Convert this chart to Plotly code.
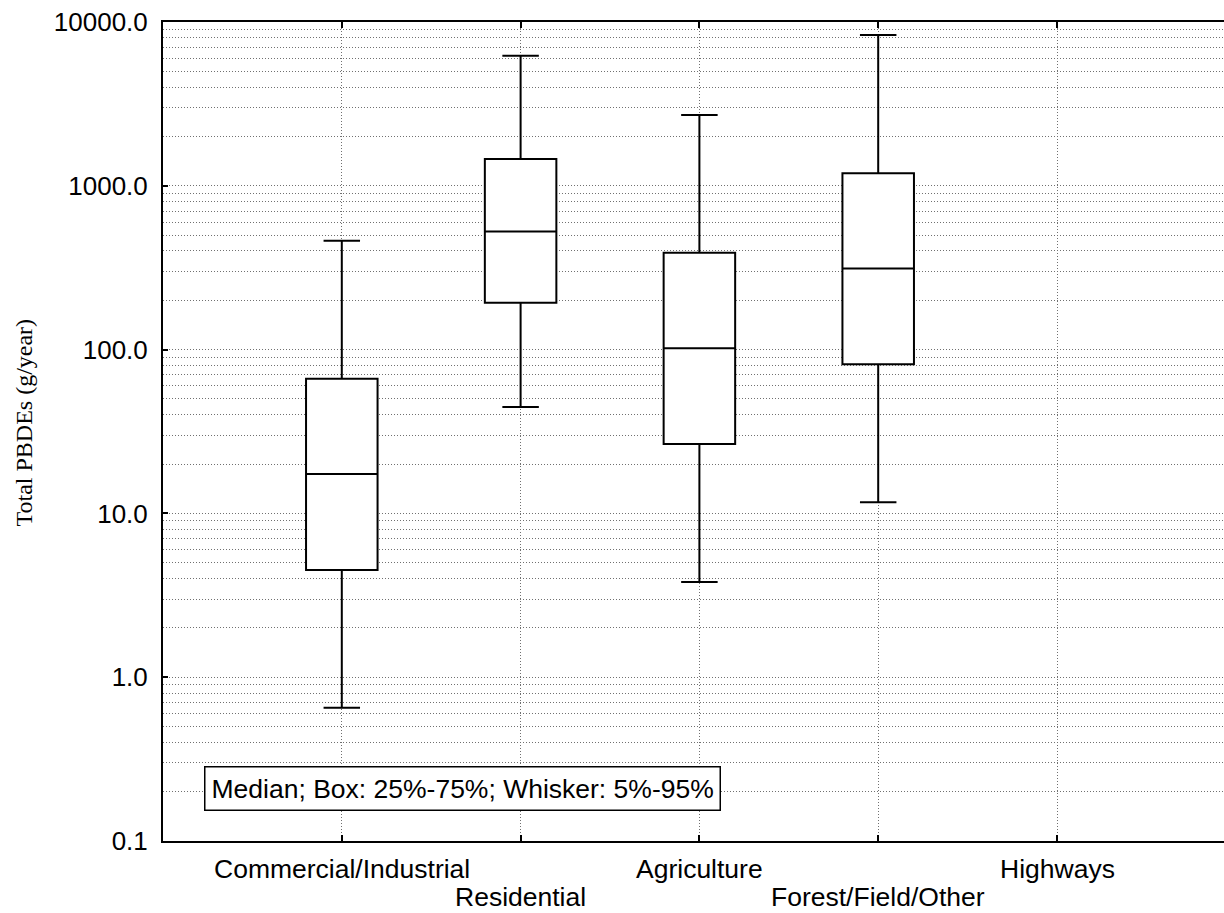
import math
import plotly.graph_objects as go

# ---- data ----
categories = ["Commercial/Industrial", "Residential", "Agriculture", "Forest/Field/Other", "Highways"]
box_categories = ["Commercial/Industrial", "Residential", "Agriculture", "Forest/Field/Other"]
p5 = [0.65, 44.7, 3.81, 11.7]
q25 = [4.51, 193.0, 26.5, 81.4]
median = [17.4, 526.0, 102.0, 313.0]
q75 = [66.3, 1455.0, 390.0, 1195.0]
p95 = [462.0, 6230.0, 2710.0, 8330.0]

ytick_vals = [0.1, 1, 10, 100, 1000, 10000]
ytick_text = ["0.1", "1.0", "10.0", "100.0", "1000.0", "10000.0"]

legend_text = "Median; Box: 25%-75%; Whisker: 5%-95%"
y_title = "Total PBDEs (g/year)"

SANS = "Liberation Sans, Arial, sans-serif"
SERIF = "Liberation Serif, Times New Roman, serif"
GRID = "#707070"
GRIDDASH = "1px,2px"

fig = go.Figure()
fig.add_trace(go.Box(
    x=box_categories,
    q1=q25, median=median, q3=q75,
    lowerfence=p5, upperfence=p95,
    width=0.4, whiskerwidth=0.51,
    fillcolor="white",
    line=dict(color="black", width=2),
    boxpoints=False,
    showlegend=False,
    hoverinfo="skip",
))

# x labels staggered over two rows
for i, c in enumerate(categories):
    fig.add_annotation(
        x=c, xref="x", y=0, yref="paper",
        text=c, showarrow=False,
        xanchor="center", yanchor="middle",
        yshift=-28 if i % 2 == 0 else -56,
        font=dict(family=SANS, size=26.5, color="black"),
    )

# legend-like note box (log axis: annotation y given in log10 units)
fig.add_annotation(
    x=0.677, xref="x", y=math.log10(0.208), yref="y",
    text=legend_text, showarrow=False,
    xanchor="center", yanchor="middle",
    font=dict(family=SANS, size=26.5, color="black"),
    bgcolor="white", bordercolor="black", borderwidth=1.5, borderpad=6,
)

# y axis title
fig.add_annotation(
    x=-0.131, xref="paper", y=0.511, yref="paper",
    text=y_title, showarrow=False, textangle=-90,
    xanchor="center", yanchor="middle",
    font=dict(family=SERIF, size=24, color="black"),
)

fig.update_layout(
    width=1224, height=913,
    margin=dict(l=163, r=0, t=22, b=72),
    paper_bgcolor="white", plot_bgcolor="white",
    showlegend=False,
)
fig.update_xaxes(
    type="category",
    categoryorder="array", categoryarray=categories,
    range=[-1, 4.934],
    showticklabels=False,
    ticks="inside", ticklen=6, tickwidth=2, tickcolor="black",
    showline=True, linecolor="black", linewidth=2, mirror="ticks",
    showgrid=True, gridcolor=GRID, griddash=GRIDDASH, gridwidth=1,
    zeroline=False,
)
fig.update_yaxes(
    type="log",
    range=[-1, 4],
    tickvals=ytick_vals, ticktext=ytick_text,
    tickfont=dict(family=SANS, size=26, color="black"),
    ticks="inside", ticklen=5, tickwidth=2, tickcolor="black",
    ticklabelstandoff=8,
    showline=True, linecolor="black", linewidth=2, mirror=False,
    showgrid=True, gridcolor=GRID, griddash=GRIDDASH, gridwidth=1,
    minor=dict(dtick="D1", showgrid=True, gridcolor=GRID, griddash=GRIDDASH, gridwidth=1, ticks=""),
    zeroline=False,
)

fig.write_html(
    "out.html",
    config={"displayModeBar": False},
    post_script="document.body.style.margin='0';document.body.style.overflow='hidden';",
)
